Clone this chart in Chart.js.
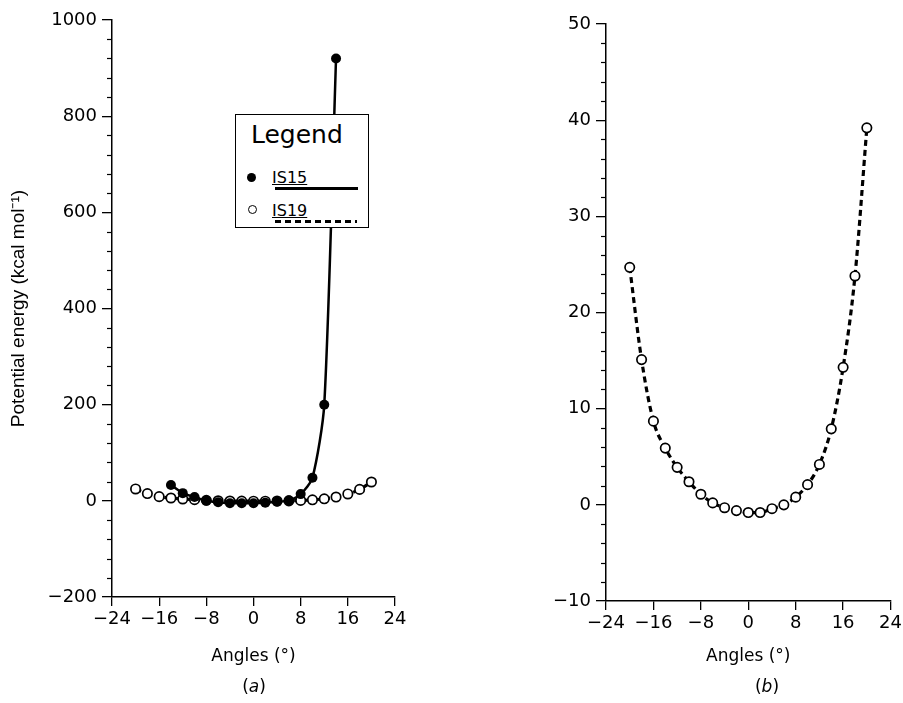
<!DOCTYPE html>
<html lang="en">
<head>
    <meta charset="UTF-8">
    <title>Potential energy vs angle</title>
    <script src="https://cdn.jsdelivr.net/npm/chart.js"></script>
    <style>
        html, body { margin: 0; padding: 0; background: #fff; overflow: hidden; }
        body { position: relative; width: 903px; height: 703px; font-family: "DejaVu Sans", sans-serif; color: #000; }
        canvas { position: absolute; top: 0; }
        #graficoA { left: 0; }
        #graficoB { left: 450px; }

        /* caixa da legenda, desenhada por cima do grafico (a) */
        .legenda { position: absolute; left: 235px; top: 114px; width: 134px; height: 114px;
                   box-sizing: border-box; border: 1.5px solid #000; background: #fff; }
        .legenda div { position: absolute; }
        .titulo-leg { left: 15px; top: 7px; font-size: 25px; line-height: 25px; }
        .nome { left: 36px; font-size: 16px; line-height: 16px; text-decoration: underline; }
        .bola { width: 9px; height: 9px; border-radius: 50%; box-sizing: border-box; }
        .cheia { left: 11px; top: 58px; background: #000; }
        .vazia { left: 12px; top: 90px; border: 1.5px solid #000; background: #fff; }
        .linha-cheia { left: 39px; top: 72px; width: 83px; height: 3px; background: #000; }
        .linha-trac { left: 39px; top: 105px; width: 82px; height: 3px;
                      background: repeating-linear-gradient(90deg, #000 0 6px, transparent 6px 10px); }

        .legenda-painel { position: absolute; top: 676px; width: 60px; text-align: center;
                          font-size: 17px; line-height: 20px; }
    </style>
</head>

<body>
    <canvas id="graficoA" width="450" height="703"></canvas>
    <canvas id="graficoB" width="455" height="703"></canvas>

    <div class="legenda">
        <div class="titulo-leg">Legend</div>
        <div class="bola cheia"></div>
        <div class="nome" style="top:55px">IS15</div>
        <div class="linha-cheia"></div>
        <div class="bola vazia"></div>
        <div class="nome" style="top:88px">IS19</div>
        <div class="linha-trac"></div>
    </div>

    <div class="legenda-painel" style="left:224px">(<i>a</i>)</div>
    <div class="legenda-painel" style="left:737px">(<i>b</i>)</div>

<script>
    // dados
    const angulosIS15 = [-14, -12, -10, -8, -6, -4, -2, 0, 2, 4, 6, 8, 10, 12, 14];
    const energiaIS15 = [33, 16, 8, 0, -3, -5, -5, -5, -4, -2, 1, 14, 48, 200, 920];

    const angulosIS19 = [-20, -18, -16, -14, -12, -10, -8, -6, -4, -2, 0, 2, 4, 6, 8, 10, 12, 14, 16, 18, 20];
    const energiaIS19 = [24.7, 15.1, 8.7, 5.9, 3.9, 2.4, 1.1, 0.2, -0.3, -0.6, -0.8, -0.8, -0.4, 0.0, 0.8, 2.1, 4.2, 7.9, 14.3, 23.8, 39.2];

    // ticks dos eixos
    const ticksAngulo = [-24, -16, -8, 0, 8, 16, 24];
    const ticksEnergiaA = [-200, 0, 200, 400, 600, 800, 1000];
    const ticksEnergiaB = [-10, 0, 10, 20, 30, 40, 50];

    Chart.defaults.font.family = '"DejaVu Sans", sans-serif';
    Chart.defaults.color = '#000';

    function pontos(xs, ys) {
        return xs.map(function (x, i) { return { x: x, y: ys[i] }; });
    }

    function rotulo(v) {
        return v < 0 ? '\u2212' + Math.abs(v) : '' + v;
    }

    // tracinhos menores no eixo y
    const tracinhos = {
        id: 'tracinhos',
        afterDraw(chart, args, opts) {
            const y = chart.scales.y;
            const ctx = chart.ctx;
            ctx.save();
            ctx.strokeStyle = '#000';
            ctx.lineWidth = 1.2;
            for (let v = y.min; v <= y.max + 1e-9; v += opts.passo) {
                if (Math.abs(v % opts.maior) < 1e-6) continue;
                const py = Math.round(y.getPixelForValue(v)) + 0.5;
                ctx.beginPath();
                ctx.moveTo(y.right - 5, py);
                ctx.lineTo(y.right, py);
                ctx.stroke();
            }
            ctx.restore();
        }
    };

    function eixoX(altura) {
        return {
            type: 'linear',
            min: -24,
            max: 24,
            afterBuildTicks: function (s) { s.ticks = ticksAngulo.map(function (v) { return { value: v }; }); },
            afterFit: function (s) { s.height = altura; },
            grid: { drawOnChartArea: false, drawTicks: true, tickLength: 9, color: '#000', lineWidth: 1.3 },
            border: { display: true, color: '#000', width: 1.5 },
            ticks: { font: { size: 18 }, padding: 3, maxRotation: 0, callback: rotulo },
            title: { display: true, text: 'Angles (°)', font: { size: 17 }, padding: { top: 0, bottom: 36 } }
        };
    }

    function eixoY(min, max, ticks, largura, titulo) {
        const eixo = {
            type: 'linear',
            min: min,
            max: max,
            afterBuildTicks: function (s) { s.ticks = ticks.map(function (v) { return { value: v }; }); },
            afterFit: function (s) { s.width = largura; },
            grid: { drawOnChartArea: false, drawTicks: true, tickLength: 10, color: '#000', lineWidth: 1.3 },
            border: { display: true, color: '#000', width: 1.5 },
            ticks: { font: { size: 18 }, padding: 5, callback: rotulo }
        };
        if (titulo) {
            eixo.title = { display: true, text: titulo, font: { family: '"Liberation Sans", sans-serif', size: 19 },
                           padding: { top: 7, bottom: 0 } };
        }
        return eixo;
    }

    const serieIS15 = {
        label: 'IS15',
        data: pontos(angulosIS15, energiaIS15),
        showLine: true,
        borderColor: '#000',
        borderWidth: 2.5,
        tension: 0.25,
        pointRadius: 5,
        pointBackgroundColor: '#000',
        pointBorderColor: '#000',
        pointBorderWidth: 0
    };

    function serieIS19() {
        return {
            label: 'IS19',
            data: pontos(angulosIS19, energiaIS19),
            showLine: true,
            borderColor: '#000',
            borderWidth: 3.2,
            borderDash: [6, 4],
            cubicInterpolationMode: 'monotone',
            pointRadius: 4.7,
            pointBackgroundColor: '#fff',
            pointBorderColor: '#000',
            pointBorderWidth: 1.7
        };
    }

    function opcoes(x, y, topo, direita, passo, maior) {
        return {
            responsive: false,
            animation: false,
            devicePixelRatio: 1,
            events: [],
            layout: { padding: { top: topo, right: direita, bottom: 0, left: 0 } },
            plugins: {
                legend: { display: false },
                tooltip: { enabled: false },
                tracinhos: { passo: passo, maior: maior }
            },
            scales: { x: x, y: y }
        };
    }

    // painel (a): IS15 por cima dos circulos abertos
    new Chart(document.getElementById('graficoA'), {
        type: 'scatter',
        data: { datasets: [serieIS15, serieIS19()] },
        options: opcoes(eixoX(106), eixoY(-200, 1000, ticksEnergiaA, 112, 'Potential energy (kcal mol\u207B\u00B9)'), 20, 55, 40, 200),
        plugins: [tracinhos]
    });

    // painel (b): so IS19
    new Chart(document.getElementById('graficoB'), {
        type: 'scatter',
        data: { datasets: [serieIS19()] },
        options: opcoes(eixoX(102), eixoY(-10, 50, ticksEnergiaB, 156, null), 24, 10, 2, 10),
        plugins: [tracinhos]
    });
</script>
</body>
</html>
